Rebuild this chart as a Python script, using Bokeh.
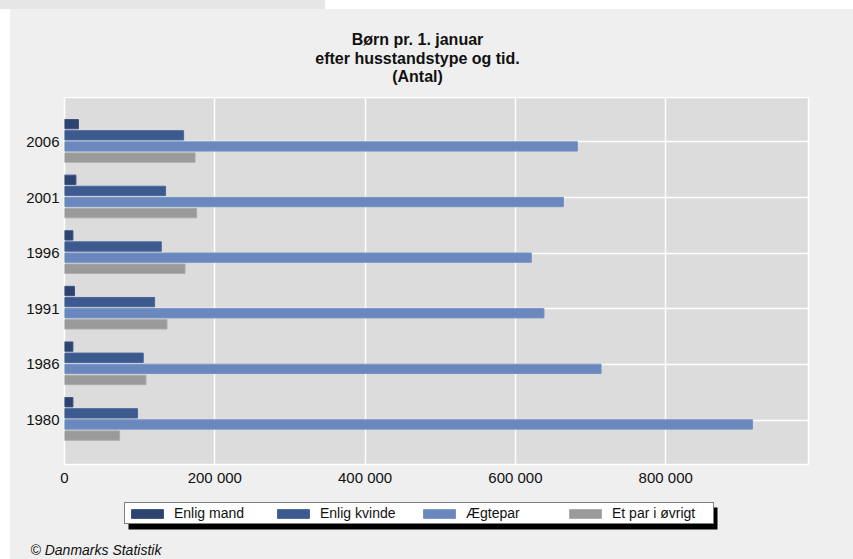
from bokeh.plotting import figure
from bokeh.models import (FactorRange, Range1d, Legend, LegendItem, Label,
                          Title, FixedTicker, ColumnDataSource, Spacer)
from bokeh.layouts import column, row
from bokeh.transform import dodge
from bokeh.embed import file_html
from bokeh.resources import INLINE

# ---- data ----
years = ["1980", "1986", "1991", "1996", "2001", "2006"]
enlig_mand = [11200, 11200, 13300, 11200, 15200, 18600]
enlig_kvinde = [97200, 104800, 119900, 128800, 134500, 158500]
aegtepar = [915600, 714000, 638000, 621200, 663900, 682500]
et_par_ovrigt = [73300, 108400, 136400, 160400, 175800, 173700]
series_names = ["Enlig mand", "Enlig kvinde", "Ægtepar", "Et par i øvrigt"]
x_ticks = [0, 200000, 400000, 600000, 800000]
x_tick_labels = ["0", "200 000", "400 000", "600 000", "800 000"]
title_lines = ["Børn pr. 1. januar", "efter husstandstype og tid.", "(Antal)"]
source_note = "© Danmarks Statistik"

# ---- styles ----
FONT = "Liberation Sans"
PANEL = "#efefef"
fills = ["#2d4370", "#3c5a8e", "#6a88be", "#9a9a9a"]
lines = ["#3a5282", "#4a679a", "#7894c6", "#aaaaaa"]
offsets = [0.32, 0.12, -0.08, -0.28]
cols = ["mand", "kvinde", "aeg", "ovrig"]
W = 843
BL, BR = 54, 45          # side borders shared by all stacked figures


def side_fig(h, frame_h, bottom_border):
    # x data units == pixels of the figure, y data units == pixels from top
    f = figure(width=W, height=h, output_backend="svg", toolbar_location=None,
               x_range=Range1d(BL, W - BR), y_range=Range1d(frame_h, 0),
               x_axis_type=None, y_axis_type=None, title_location=None,
               min_border_left=BL, min_border_right=BR, min_border_top=0,
               min_border_bottom=bottom_border, background_fill_alpha=0,
               border_fill_alpha=0, outline_line_color=None)
    f.grid.visible = False
    return f


# ---- title area ----
p0 = side_fig(88, 88, 0)
for txt, yb in zip(title_lines, [29.8, 48.6, 67.3]):
    p0.add_layout(Label(x=407, y=yb, text=txt, text_align="center",
                        text_baseline="alphabetic", text_font=FONT,
                        text_font_size="16px", text_font_style="bold",
                        text_color="#111111"))

# ---- main chart ----
src = ColumnDataSource(dict(year=years, mand=enlig_mand, kvinde=enlig_kvinde,
                            aeg=aegtepar, ovrig=et_par_ovrigt))

p = figure(width=W, height=398, output_backend="svg", toolbar_location=None,
           y_range=FactorRange(*years, range_padding=0.1),
           x_range=Range1d(0, 990000), title_location=None,
           min_border_left=BL, min_border_right=BR,
           min_border_top=0, min_border_bottom=31,
           background_fill_color="#dcdcdc", border_fill_color=PANEL,
           outline_line_color="white", outline_line_width=1.5)

renderers = []
for c, off, fc, lc in zip(cols, offsets, fills, lines):
    r = p.hbar(y=dodge("year", off, range=p.y_range), left=0, right=c,
               height=0.168, source=src, fill_color=fc, line_color=lc,
               line_width=1)
    renderers.append(r)

p.xgrid.ticker = FixedTicker(ticks=x_ticks)
p.xgrid.grid_line_color = "white"
p.xgrid.grid_line_width = 1.5
p.ygrid.grid_line_color = "white"
p.ygrid.grid_line_width = 1.5

p.xaxis.ticker = FixedTicker(ticks=x_ticks)
p.xaxis.major_label_overrides = dict(zip(x_ticks, x_tick_labels))
for ax in (p.xaxis[0], p.yaxis[0]):
    ax.axis_line_color = None
    ax.major_tick_line_color = None
    ax.minor_tick_line_color = None
    ax.major_tick_out = 0
    ax.major_tick_in = 0
    ax.minor_tick_out = 0
    ax.major_label_text_font = FONT
    ax.major_label_text_font_size = "15px"
    ax.major_label_text_color = "#111111"
p.xaxis.major_label_standoff = 4
p.yaxis.major_label_standoff = 5

# ---- legend & source area ----
p2 = side_fig(64, 43, 21)
# shadow behind the legend box
p2.quad(left=[118], right=[707], top=[12], bottom=[34],
        fill_color="black", line_color=None)
# legend key proxies (hidden) carrying the series colours
proxies = []
for fc, lc in zip(fills, lines):
    proxies.append(p2.hbar(y=[0], right=[0], left=0, height=0,
                           fill_color=fc, line_color=lc, visible=False))
legend = Legend(items=[LegendItem(label=n, renderers=[g])
                       for n, g in zip(series_names, proxies)],
                orientation="horizontal", location=(60, 14), margin=0,
                border_line_color="black", border_line_width=1,
                background_fill_color="white", background_fill_alpha=1,
                inactive_fill_alpha=0,
                glyph_width=40, glyph_height=11, label_standoff=7,
                label_width=99, spacing=0, padding=2,
                label_text_font=FONT, label_text_font_size="14px",
                label_text_color="#111111")
p2.add_layout(legend, "center")

footer = Title(text=source_note, align="left", offset=-34, standoff=2,
               text_font=FONT, text_font_size="14px",
               text_font_style="italic", text_color="#111111")
p2.add_layout(footer, "below")

band = Spacer(width=325, height=9, styles={"background-color": "#e6e6e6"})
panel = column(p0, p, p2, styles={"background-color": PANEL})
layout = column(band, row(Spacer(width=10, height=550), panel))

open("out.html", "w").write(file_html(layout, INLINE))
